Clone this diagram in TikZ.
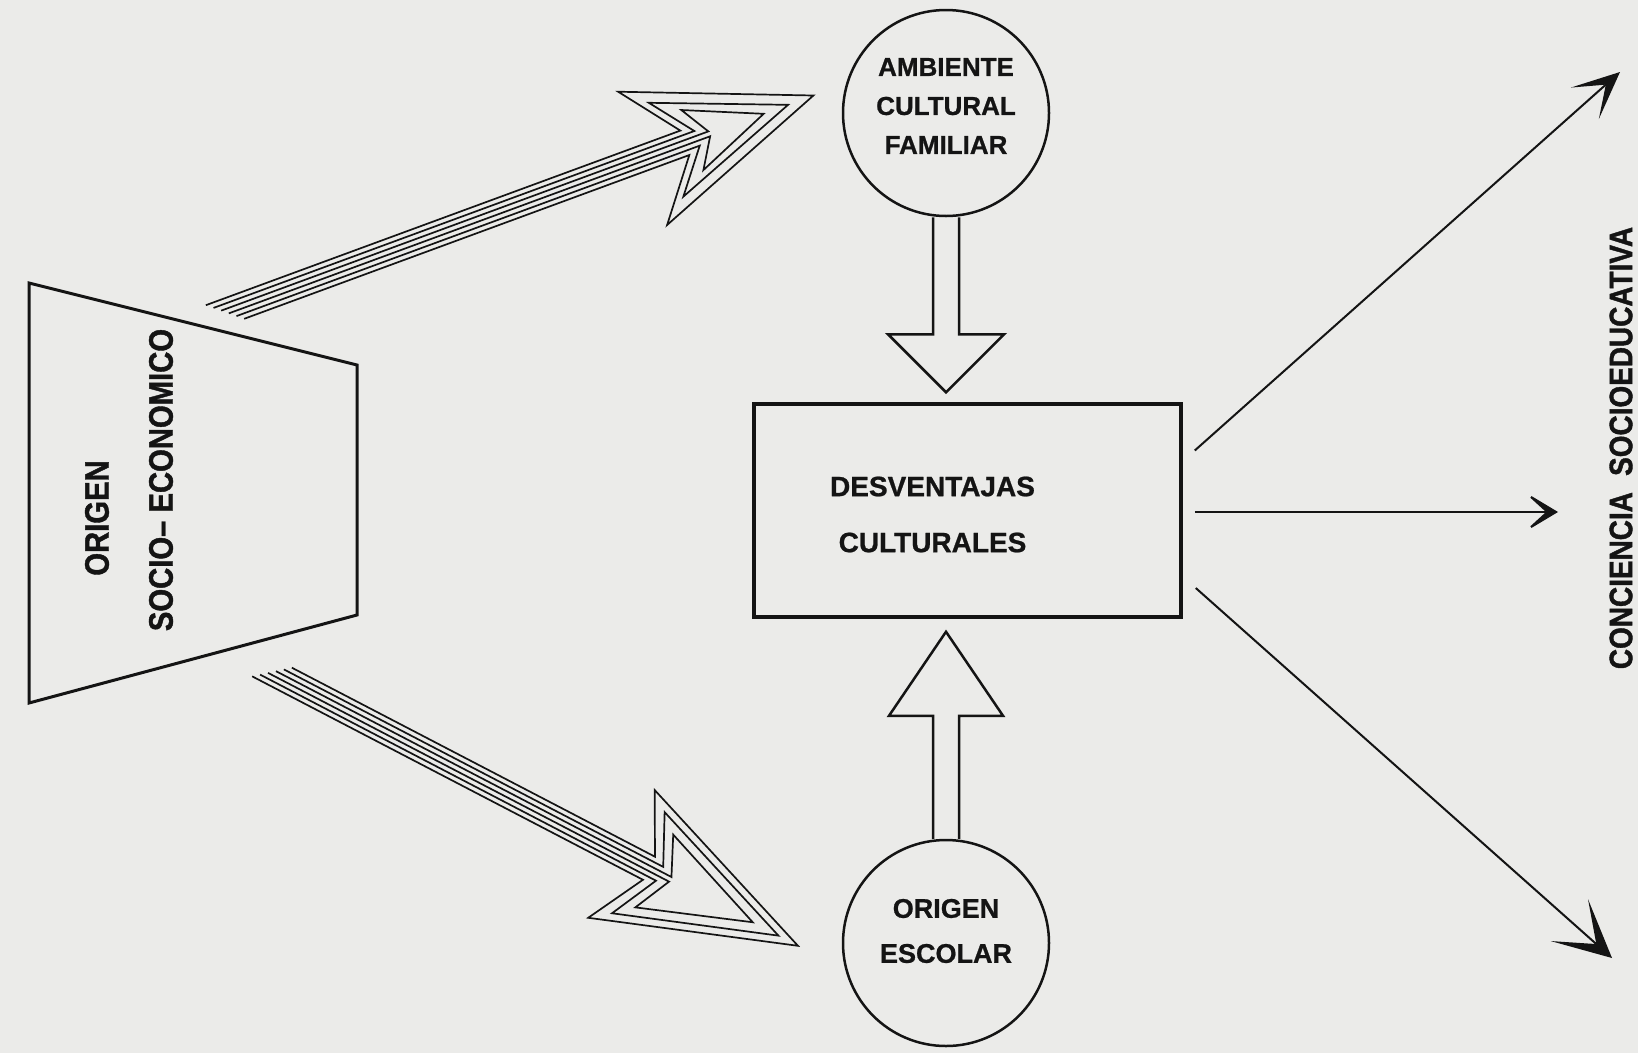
\documentclass[tikz,border=0pt]{standalone}
\usepackage{fontspec}
\setmainfont{Liberation Sans}[BoldFeatures={FakeBold=0.8}]
\newfontfamily\condfont{Liberation Sans}[FakeStretch=0.86,BoldFeatures={FakeBold=1.2}]
\usetikzlibrary{calc,arrows.meta}

\definecolor{paper}{RGB}{235,235,233}
\definecolor{ink}{RGB}{20,20,20}

\begin{document}
\begin{tikzpicture}[x=1pt, y=-1pt, line join=miter]
\tikzset{roundnode/.style={circle,draw=ink,line width=2.5pt,minimum size=206pt,inner sep=0pt},
boxnode/.style={rectangle,draw=ink,line width=3.5pt,minimum width=427pt,minimum height=213pt,inner sep=0pt},
nodelabel/.style={font=\fontsize{26}{39}\selectfont\bfseries,text=ink,align=center,inner sep=0pt},
sidelabel/.style={font=\condfont\fontsize{34}{40}\selectfont\bfseries,text=ink,rotate=90,inner sep=0pt},
stripe/.style={draw=ink,line width=1.7pt},
fatarrow/.style={draw=ink,line width=2.5pt},
thinarrow/.style={draw=ink,line width=2pt}}

\fill[paper] (0,0) rectangle (1638,1053);
\useasboundingbox (0,0) rectangle (1638,1053);

\node (amb) [roundnode] at (946,113) {};
\node (esc) [roundnode] at (946,943) {};
\node (desv) [boxnode] at (967.5,510.5) {};

\node (ambtext) [nodelabel] at ($(amb)+(0,-7)$) {AMBIENTE\\CULTURAL\\FAMILIAR};
\node (esctext) [nodelabel,font=\fontsize{27}{45}\selectfont\bfseries] at ($(esc)+(0,-12)$) {ORIGEN\\ESCOLAR};
\node (desvtext) [nodelabel,font=\fontsize{28}{56}\selectfont\bfseries] at ($(desv)+(-35,4)$) {DESVENTAJAS\\CULTURALES};

%% origen socio-economico
\coordinate (t1) at (29,283);
\coordinate (t2) at (357,365);
\coordinate (t3) at (357,615);
\coordinate (t4) at (29,703);
\draw[ink,line width=3pt] (t1) -- (t2) -- (t3) -- (t4) -- cycle;
\node (orig) [sidelabel] at (97,518) {ORIGEN};
\node (socio) [sidelabel] at (161,480) {SOCIO– ECONOMICO};

\node (conc) [sidelabel,font=\condfont\fontsize{32.5}{40}\selectfont\bfseries] at (1621,448) {CONCIENCIA\hspace{0.5em}SOCIOEDUCATIVA};

%% block arrows
\draw[fatarrow] ($(amb.south)+(-13,0)$) -- ++(0,117) -- ++(-45,0) -- ($(amb.south)+(0,175)$)
  -- ($(amb.south)+(58,117)$) -- ++(-45,0) -- ++(0,-117);
\draw[fatarrow] ($(esc.north)+(-13,0)$) -- ++(0,-123) -- ++(-44,0) -- ($(esc.north)+(0,-207)$)
  -- ($(esc.north)+(57,-123)$) -- ++(-44,0) -- ++(0,123);

%% striped arrows
\coordinate (sa) at (225,312);
\coordinate (sb) at (272,672);
\begin{scope}[shift={(sa)}, rotate=20.2]
\foreach \s/\n/\cu/\cv/\tip in {13/490/445/71/627, 7.8/503/470/50/600, 2.6/516/498/32/574}
  \draw[stripe] ({1.2*\s},\s) -- (\n,\s) -- (\cu,\cv) -- (\tip,0) -- (\cu,-\cv) -- (\n,-\s) -- ({-1.2*\s},-\s);
\end{scope}
\begin{scope}[shift={(sb)}, rotate=-27.5]
\foreach \s/\n/\cu/\cv/\tip in {13/425/394/72/593, 7.8/437/413/57/571, 2.6/449/431/41/542}
  \draw[stripe] ({-1.2*\s},\s) -- (\n,\s) -- (\cu,\cv) -- (\tip,0) -- (\cu,-\cv) -- (\n,-\s) -- ({1.2*\s},-\s);
\end{scope}

%% outgoing arrows
\coordinate (c1) at (1620,72);
\coordinate (c2) at (1558,512);
\coordinate (c3) at (1612,958);
\draw[thinarrow,-{Stealth[length=47pt,width=42pt,inset=28pt]}] ($(desv.east)+(12,-60)$) -- (c1);
\draw[thinarrow,-{Stealth[length=35pt,width=42pt,inset=23pt]}] ($(desv.east)+(12,1.5)$) -- (c2);
\draw[thinarrow,-{Stealth[length=57pt,width=56pt,inset=36pt]}] ($(desv.east)+(13,77.5)$) -- (c3);

\end{tikzpicture}
\end{document}
